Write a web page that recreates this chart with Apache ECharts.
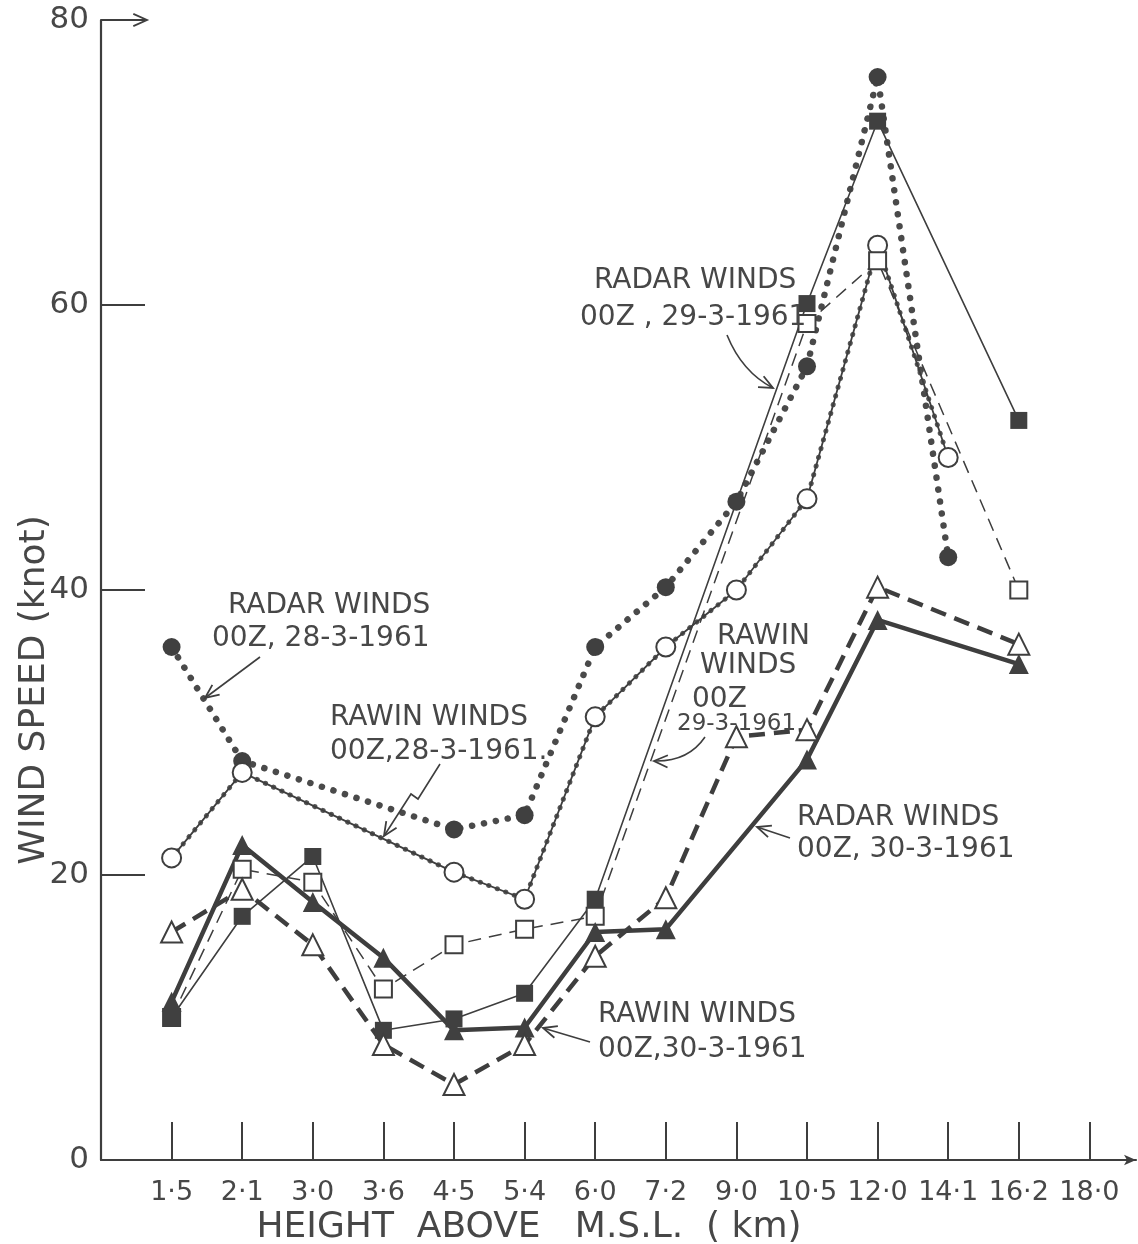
<!DOCTYPE html>
<html>
<head>
<meta charset="utf-8">
<script src="https://cdn.jsdelivr.net/npm/echarts@6/dist/echarts.min.js"></script>
<style>
  html, body { margin: 0; padding: 0; background: #ffffff; }
  #chart { width: 1138px; height: 1244px; }
</style>
</head>
<body>
<div id="chart"></div>
<script>
// Heights above mean sea level (km), one category per tick
const heights = ['1·5', '2·1', '3·0', '3·6', '4·5', '5·4', '6·0', '7·2', '9·0', '10·5', '12·0', '14·1', '16·2', '18·0'];
const speedTicks = [0, 20, 40, 60, 80];

// Wind speed (knot) at each height; null where no observation was plotted
const radar28 = [36, 28, null, null, 23.2, 24.2, 36, 40.2, 46.2, 55.7, 76, 42.3, null, null];
const rawin28 = [21.2, 27.2, null, null, 20.2, 18.3, 31.1, 36, 40, 46.4, 64.2, 49.3, null, null];
const radar29 = [10, 17.1, 21.3, 9.1, 9.9, 11.7, 18.3, null, null, 60.1, 72.9, null, 51.9, null];
const rawin29 = [10, 20.4, 19.5, 12, 15.1, 16.2, 17.1, null, null, 58.7, 63.1, null, 40, null];
const radar30 = [11.1, 22.1, 18.1, 14.2, 9.1, 9.3, 16, 16.2, null, 28.1, 37.9, null, 34.8, null];
const rawin30 = [16, 19, 15.1, 8.1, 5.3, 8.1, 14.3, 18.4, 29.7, 30.2, 40.2, null, 36.2, null];

const INK = '#3e3e3e';
const TEXT = '#474747';
const FONT = '"DejaVu Sans", "Liberation Sans", sans-serif';
const tickPositions = heights.map((_, i) => i + 1);

// pair each height index with its speed, skipping heights without a value
const points = arr => arr.map((v, i) => (v == null ? null : [i + 1, v])).filter(Boolean);

const chart = echarts.init(document.getElementById('chart'), null, { renderer: 'canvas' });

// annotation helpers (pixel space)
function label(x, y, s, size) {
  return {
    type: 'text', x: x, y: y, z: 50,
    style: { text: s, fill: TEXT, fontSize: size || 28, fontFamily: FONT, align: 'left', verticalAlign: 'middle' }
  };
}
function head(tip, from) {
  const dx = tip[0] - from[0], dy = tip[1] - from[1];
  const a = Math.atan2(dy, dx), L = 15, s = 0.42;
  const p1 = [tip[0] - L * Math.cos(a - s), tip[1] - L * Math.sin(a - s)];
  const p2 = [tip[0] - L * Math.cos(a + s), tip[1] - L * Math.sin(a + s)];
  return { type: 'polyline', z: 50, shape: { points: [p1, tip, p2] }, style: { stroke: INK, lineWidth: 1.8, fill: null } };
}
function arrowLine(pts) {
  return [
    { type: 'polyline', z: 50, shape: { points: pts }, style: { stroke: INK, lineWidth: 1.6, fill: null } },
    head(pts[pts.length - 1], pts[pts.length - 2])
  ];
}
function arrowCurve(p0, c, p1) {
  return [
    { type: 'bezierCurve', z: 50, shape: { x1: p0[0], y1: p0[1], cpx1: c[0], cpy1: c[1], x2: p1[0], y2: p1[1] },
      style: { stroke: INK, lineWidth: 1.6, fill: null } },
    head(p1, c)
  ];
}

const graphics = [].concat(
  // axis titles
  [{
    type: 'text', x: 529, y: 1228, z: 50,
    style: { text: 'HEIGHT  ABOVE   M.S.L.  ( km)', fill: TEXT, fontSize: 36, fontFamily: FONT, align: 'center', verticalAlign: 'middle' }
  }, {
    type: 'text', x: 35, y: 690, rotation: Math.PI / 2, z: 50,
    style: { text: 'WIND SPEED (knot)', fill: TEXT, fontSize: 36, fontFamily: FONT, align: 'center', verticalAlign: 'middle' }
  }],
  // arrow on the top speed tick
  [head([147, 20], [100, 20])],
  // radar winds 28-3-1961
  [label(228, 606, 'RADAR WINDS'), label(212, 639, '00Z, 28-3-1961')],
  arrowLine([[260, 657], [205, 698]]),
  // rawin winds 28-3-1961
  [label(330, 718, 'RAWIN WINDS'), label(330, 752, '00Z,28-3-1961.')],
  arrowLine([[440, 764], [418, 799], [411, 794], [384, 836]]),
  // radar winds 29-3-1961
  [label(594, 281, 'RADAR WINDS'), label(580, 318, '00Z , 29-3-1961')],
  arrowCurve([727, 335], [742, 372], [773, 388]),
  // rawin winds 29-3-1961
  [label(717, 637, 'RAWIN'), label(700, 666, 'WINDS'), label(692, 700, '00Z'), label(677, 724, '29-3-1961', 23)],
  arrowCurve([705, 737], [688, 762], [654, 761]),
  // radar winds 30-3-1961
  [label(797, 818, 'RADAR WINDS'), label(797, 850, '00Z, 30-3-1961')],
  arrowLine([[790, 838], [757, 827]]),
  // rawin winds 30-3-1961
  [label(598, 1015, 'RAWIN WINDS'), label(598, 1050, '00Z,30-3-1961')],
  arrowLine([[590, 1042], [543, 1028]])
);

const option = {
  backgroundColor: '#ffffff',
  animation: false,
  grid: { left: 101, right: 2, top: 20, bottom: 84 },
  xAxis: {
    type: 'value', min: 0, max: 14.66, interval: 1,
    splitLine: { show: false },
    axisLine: { show: true, lineStyle: { color: INK, width: 2.2 }, symbol: ['none', 'arrow'], symbolSize: [8, 12] },
    axisTick: { show: true, inside: true, length: 38, customValues: tickPositions, lineStyle: { color: INK, width: 2 } },
    axisLabel: {
      customValues: tickPositions,
      formatter: v => heights[Math.round(v) - 1] || '',
      margin: 19, fontSize: 27, color: TEXT, fontFamily: FONT
    }
  },
  yAxis: {
    type: 'value', min: speedTicks[0], max: speedTicks[speedTicks.length - 1], interval: 20,
    splitLine: { show: false },
    axisLine: { show: true, lineStyle: { color: INK, width: 2.2 } },
    axisTick: { show: true, inside: true, length: 44, lineStyle: { color: INK, width: 2 } },
    axisLabel: { margin: 12, fontSize: 31, color: TEXT, fontFamily: FONT }
  },
  series: [
    {
      name: 'Radar winds 00Z 28-3-1961', type: 'line', data: points(radar28),
      symbol: 'circle', symbolSize: 18,
      itemStyle: { color: '#404040' },
      lineStyle: { color: '#4a4a4a', width: 6.5, type: [0.1, 12], cap: 'round' }
    },
    {
      name: 'Rawin winds 00Z 28-3-1961 beads', type: 'line', data: points(rawin28),
      symbol: 'none', silent: true,
      lineStyle: { color: '#555555', width: 5, type: [0.1, 9], cap: 'round' }
    },
    {
      name: 'Rawin winds 00Z 28-3-1961', type: 'line', data: points(rawin28),
      symbol: 'circle', symbolSize: 19,
      itemStyle: { color: '#ffffff', borderColor: INK, borderWidth: 2 },
      lineStyle: { color: INK, width: 1.8 }
    },
    {
      name: 'Rawin winds 00Z 29-3-1961', type: 'line', data: points(rawin29),
      symbol: 'rect', symbolSize: 17,
      itemStyle: { color: '#ffffff', borderColor: INK, borderWidth: 2 },
      lineStyle: { color: INK, width: 1.5, type: [13, 8] }
    },
    {
      name: 'Radar winds 00Z 29-3-1961', type: 'line', data: points(radar29),
      symbol: 'rect', symbolSize: 17,
      itemStyle: { color: '#404040' },
      lineStyle: { color: INK, width: 1.6 }
    },
    {
      name: 'Radar winds 00Z 30-3-1961', type: 'line', data: points(radar30),
      symbol: 'triangle', symbolSize: 20,
      itemStyle: { color: '#404040' },
      lineStyle: { color: INK, width: 4.5 }
    },
    {
      name: 'Rawin winds 00Z 30-3-1961', type: 'line', data: points(rawin30),
      symbol: 'triangle', symbolSize: 21,
      itemStyle: { color: '#ffffff', borderColor: INK, borderWidth: 2 },
      lineStyle: { color: INK, width: 4.5, type: [16, 9] }
    }
  ],
  graphic: graphics
};

chart.setOption(option);
</script>
</body>
</html>
